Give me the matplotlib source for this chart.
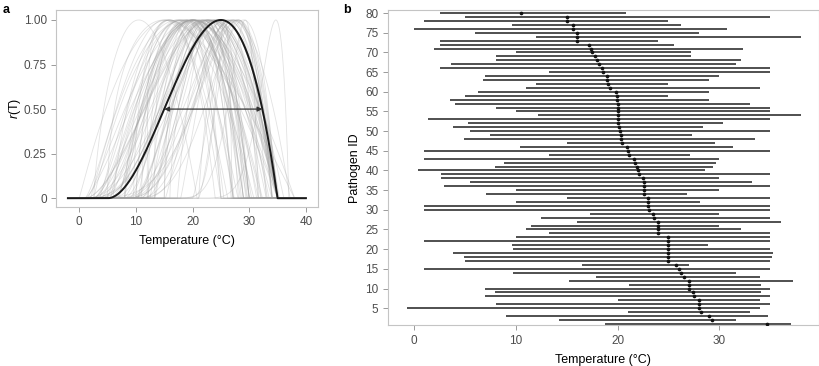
import numpy as np
import matplotlib
matplotlib.use("Agg")
import matplotlib.pyplot as plt

plt.rcParams['font.family'] = ['Liberation Sans', 'DejaVu Sans']
plt.rcParams['mathtext.fontset'] = 'custom'
plt.rcParams['mathtext.it'] = 'Liberation Sans:italic'
plt.rcParams['mathtext.rm'] = 'Liberation Sans'

# Pathogen thermal parameters, pathogen ID 1..80
pathogen_id = list(range(1, 81))
t_min = [18.8, 14.2, 9.0, 21.0, -0.7, 8.0, 20.0, 7.0, 7.9, 7.0,
         21.1, 15.2, 17.9, 9.7, 1.0, 16.5, 5.0, 4.9, 3.8, 9.7,
         9.6, 1.0, 10.0, 13.3, 11.0, 11.5, 16.0, 12.5, 17.3, 1.0,
         1.0, 10.0, 15.0, 7.1, 10.0, 2.9, 5.5, 2.6, 2.6, 0.4,
         7.9, 8.8, 1.0, 13.3, 1.0, 10.4, 15.0, 4.9, 7.5, 5.5,
         3.8, 5.25, 1.4, 12.2, 10.0, 8.0, 4.0, 3.5, 5.0, 6.3,
         11.0, 12.0, 6.75, 7.0, 13.3, 2.56, 3.6, 8.0, 8.0, 10.0,
         2.0, 2.5, 2.56, 12.0, 6.0, 0.0, 9.6, 1.0, 5.0, 2.56]
t_opt = [34.7, 29.3, 29.0, 28.2, 28.0, 28.0, 28.0, 27.5, 27.4, 27.0,
         27.0, 27.0, 26.5, 26.2, 26.0, 25.7, 25.0, 25.0, 25.0, 25.0,
         25.0, 25.0, 25.0, 24.0, 24.0, 24.0, 24.0, 23.6, 23.5, 23.1,
         23.0, 23.0, 23.0, 22.6, 22.6, 22.6, 22.6, 22.5, 22.1, 22.0,
         21.9, 21.7, 21.6, 21.1, 21.0, 20.9, 20.4, 20.3, 20.3, 20.2,
         20.1, 20.0, 20.0, 20.0, 20.0, 20.0, 20.0, 19.9, 19.9, 19.8,
         19.3, 19.1, 19.0, 19.0, 18.6, 18.5, 18.2, 18.0, 17.8, 17.5,
         17.4, 17.2, 16.0, 16.0, 16.0, 15.6, 15.6, 15.0, 15.0, 10.5]
t_max = [37.0, 31.6, 34.8, 33.0, 34.0, 35.0, 34.0, 35.0, 34.1, 35.0,
         34.1, 37.2, 34.0, 31.6, 35.0, 27.0, 35.0, 35.2, 35.3, 35.0,
         28.9, 35.0, 35.0, 35.0, 32.1, 30.0, 36.1, 35.0, 30.0, 35.0,
         35.0, 28.1, 35.0, 26.8, 30.0, 35.0, 33.2, 30.0, 35.0, 28.6,
         29.4, 29.7, 30.0, 27.1, 35.0, 31.3, 29.6, 33.5, 27.3, 35.0,
         28.4, 30.4, 35.0, 38.0, 35.0, 35.0, 33.0, 29.0, 25.0, 29.0,
         34.0, 25.0, 29.0, 30.0, 35.0, 35.0, 31.6, 32.1, 27.2, 27.2,
         32.3, 25.5, 24.0, 38.0, 28.0, 30.8, 26.2, 25.0, 35.0, 20.8]
highlight_id = 17
temp_range = [-2, 40]

x_ticks_a = [0, 10, 20, 30, 40]
y_ticks_a = [0, 0.25, 0.5, 0.75, 1.0]
y_ticklabels_a = ['0', '0.25', '0.50', '0.75', '1.00']
x_ticks_b = [0, 10, 20, 30]
y_ticks_b = list(range(5, 81, 5))


def beta_curve(T, tmin, topt, tmax):
    a = (topt - tmin) / (tmax - topt)
    r = np.zeros_like(T)
    m = (T > tmin) & (T < tmax)
    r[m] = ((tmax - T[m]) / (tmax - topt)) * ((T[m] - tmin) / (topt - tmin)) ** a
    return r


T = np.linspace(temp_range[0], temp_range[1], 2101)

fig = plt.figure(figsize=(8.2, 3.66), dpi=100)
ax_a = fig.add_axes([0.0683, 0.4336, 0.3199, 0.5391])
ax_b = fig.add_axes([0.4728, 0.1107, 0.5260, 0.8620])

spine_col = '#c4c4c4'
tick_col = '#9a9a9a'
label_col = '#4d4d4d'

for ax in (ax_a, ax_b):
    for s in ax.spines.values():
        s.set_color(spine_col)
        s.set_linewidth(0.8)
    ax.tick_params(direction='out', length=3.6, width=0.7, color=tick_col,
                   labelcolor=label_col, labelsize=8.5, pad=3)

# Panel a
for i, pid in enumerate(pathogen_id):
    if pid == highlight_id:
        continue
    ax_a.plot(T, beta_curve(T, t_min[i], t_opt[i], t_max[i]),
              color='#a0a0a0', alpha=0.3, lw=0.6)
hi = pathogen_id.index(highlight_id)
r_hi = beta_curve(T, t_min[hi], t_opt[hi], t_max[hi])
ax_a.plot(T, r_hi, color='#1a1a1a', lw=1.4)
# width at half maximum
above = np.where(r_hi >= 0.5)[0]
x_left, x_right = T[above[0]], T[above[-1]]
ax_a.annotate('', xy=(x_left, 0.5), xytext=(x_right, 0.5),
              arrowprops=dict(arrowstyle='<|-|>', color='#333333', lw=0.9,
                              mutation_scale=7, shrinkA=0, shrinkB=0))
ax_a.set_xlim(-4.1, 42.2)
ax_a.set_ylim(-0.051, 1.056)
ax_a.set_xticks(x_ticks_a)
ax_a.set_yticks(y_ticks_a)
ax_a.set_yticklabels(y_ticklabels_a)
ax_a.set_xlabel('Temperature (°C)', fontsize=9, labelpad=5)
ax_a.set_ylabel('$r$(T)', fontsize=9, labelpad=0.5)

# Panel b
ax_b.hlines(pathogen_id, t_min, t_max, color='#4f4f4f', lw=1.4)
ax_b.scatter(t_opt, pathogen_id, s=7, color='#111111', zorder=3, linewidths=0)
ax_b.set_xlim(-2.6, 39.8)
ax_b.set_ylim(0.6, 80.8)
ax_b.set_xticks(x_ticks_b)
ax_b.set_yticks(y_ticks_b)
ax_b.set_xlabel('Temperature (°C)', fontsize=9, labelpad=5)
ax_b.set_ylabel('Pathogen ID', fontsize=9, labelpad=3)

fig.text(0.003, 0.99, 'a', fontsize=9, fontweight='bold', va='top', ha='left')
fig.text(0.418, 0.99, 'b', fontsize=9, fontweight='bold', va='top', ha='left')

fig.savefig('out.png', dpi=100)
